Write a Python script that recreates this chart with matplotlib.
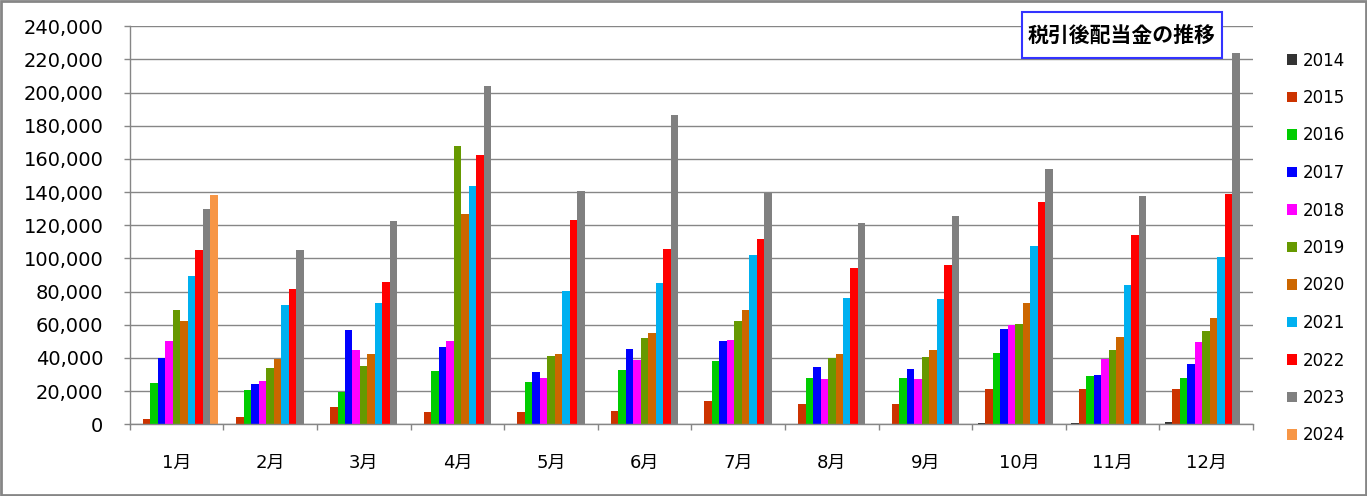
import matplotlib
matplotlib.use("Agg")
import matplotlib.pyplot as plt
import numpy as np
from matplotlib.patches import Rectangle
from matplotlib.ticker import FuncFormatter, FixedLocator

plt.rcParams['font.family'] = ['DejaVu Sans', 'Noto Sans CJK JP']

months = ['1月', '2月', '3月', '4月', '5月', '6月', '7月', '8月', '9月', '10月', '11月', '12月']
years = ['2014', '2015', '2016', '2017', '2018', '2019', '2020', '2021', '2022', '2023', '2024']

s2014 = [0, 0, 0, 0, 0, 0, 0, 0, 0, 600, 600, 1200]
s2015 = [3000, 4600, 10300, 7300, 7300, 7900, 13900, 12100, 12100, 21200, 21200, 21200]
s2016 = [25100, 20900, 19500, 32000, 25400, 32700, 38100, 27800, 27800, 42900, 29000, 27800]
s2017 = [40200, 24500, 56800, 46500, 31400, 45400, 50200, 34500, 33300, 57400, 29600, 36300]
s2018 = [50500, 26300, 44700, 50200, 27800, 38700, 50800, 27200, 27200, 59900, 39300, 49600]
s2019 = [69100, 34200, 35100, 168000, 41100, 52000, 62300, 39900, 40500, 60500, 44800, 56300]
s2020 = [62500, 39200, 42300, 126900, 42300, 55000, 68900, 42300, 44700, 73200, 52600, 64100]
s2021 = [89600, 72200, 73100, 143800, 80400, 85300, 102200, 76200, 75600, 107600, 84100, 101000]
s2022 = [105300, 81800, 85800, 162600, 123400, 105800, 111900, 94300, 96100, 134200, 114300, 139100]
s2023 = [130000, 105300, 122700, 204300, 140900, 186300, 139700, 121500, 125800, 154200, 137900, 223800]
s2024 = [138500, 0, 0, 0, 0, 0, 0, 0, 0, 0, 0, 0]

series = [s2014, s2015, s2016, s2017, s2018, s2019, s2020, s2021, s2022, s2023, s2024]
colors = ['#333333', '#CC3300', '#00CC00', '#0000FF', '#FF00FF', '#669900',
          '#CC6600', '#00B0F0', '#FF0000', '#808080', '#F79646']

W, H = 1367, 496
fig = plt.figure(figsize=(W / 100, H / 100), dpi=100)
fig.patch.set_facecolor('white')

left, right, bottom, top = 129.7, 1253.0, 424.3, 26.3
ax = fig.add_axes([left / W, (H - bottom) / H, (right - left) / W, (bottom - top) / H])

x = np.arange(len(months))
n = len(series)
bw = 1.0 / 12.5
for i, (vals, c, y) in enumerate(zip(series, colors, years)):
    ax.bar(x + (i - (n - 1) / 2) * bw, vals, width=bw, color=c, linewidth=0, label=y, zorder=2)

gc = '#868686'
ax.set_xlim(-0.5, len(months) - 0.5)
ax.set_ylim(0, 240000)
ax.set_yticks(np.arange(0, 240001, 20000))
ax.yaxis.set_major_formatter(FuncFormatter(lambda v, p: f'{int(v):,}'))
ax.grid(axis='y', color=gc, linewidth=1.0, zorder=0)
ax.set_axisbelow(True)

ax.xaxis.set_major_locator(FixedLocator(np.arange(-0.5, len(months), 1.0)))
ax.xaxis.set_major_formatter(FuncFormatter(lambda v, p: ''))
ax.xaxis.set_minor_locator(FixedLocator(x))
ax.set_xticklabels(months, minor=True)
ax.tick_params(axis='x', which='major', direction='out', length=4.5, color=gc, width=1)
ax.tick_params(axis='x', which='minor', length=0, pad=21, labelsize=13)
ax.tick_params(axis='y', direction='out', length=4.5, color=gc, width=1, pad=14.5, labelsize=14)

for s in ['top', 'right']:
    ax.spines[s].set_visible(False)
for s in ['left', 'bottom']:
    ax.spines[s].set_color(gc)
    ax.spines[s].set_linewidth(1.0)

leg = ax.legend(loc='upper left', bbox_to_anchor=(1287 / W, (H - 51.5) / H),
                bbox_transform=fig.transFigure, frameon=False, fontsize=12,
                handlelength=0.6, handleheight=0.6, handletextpad=0.36,
                labelspacing=1.17, borderpad=0, borderaxespad=0)

# title box
bx0, by0, bx1, by1 = 1021.7, 11.7, 1222.3, 58.3
fig.patches.append(Rectangle((bx0 / W, (H - by1) / H), (bx1 - bx0) / W, (by1 - by0) / H,
                             transform=fig.transFigure, facecolor='white',
                             edgecolor='#3333FF', linewidth=1.5, zorder=5))
fig.text((bx0 + bx1) / 2 / W, (H - (by0 + by1) / 2) / H, '税引後配当金の推移',
         ha='center', va='center', fontsize=15, fontweight='bold',
         family=['Noto Sans CJK JP', 'DejaVu Sans'], zorder=6)

# chart area border
fig.patches.append(Rectangle((0.0008, 0.0015), 0.9984, 0.997, transform=fig.transFigure,
                             facecolor='none', edgecolor='#868686', linewidth=2.0, zorder=10))

fig.savefig('out.png', dpi=100)
